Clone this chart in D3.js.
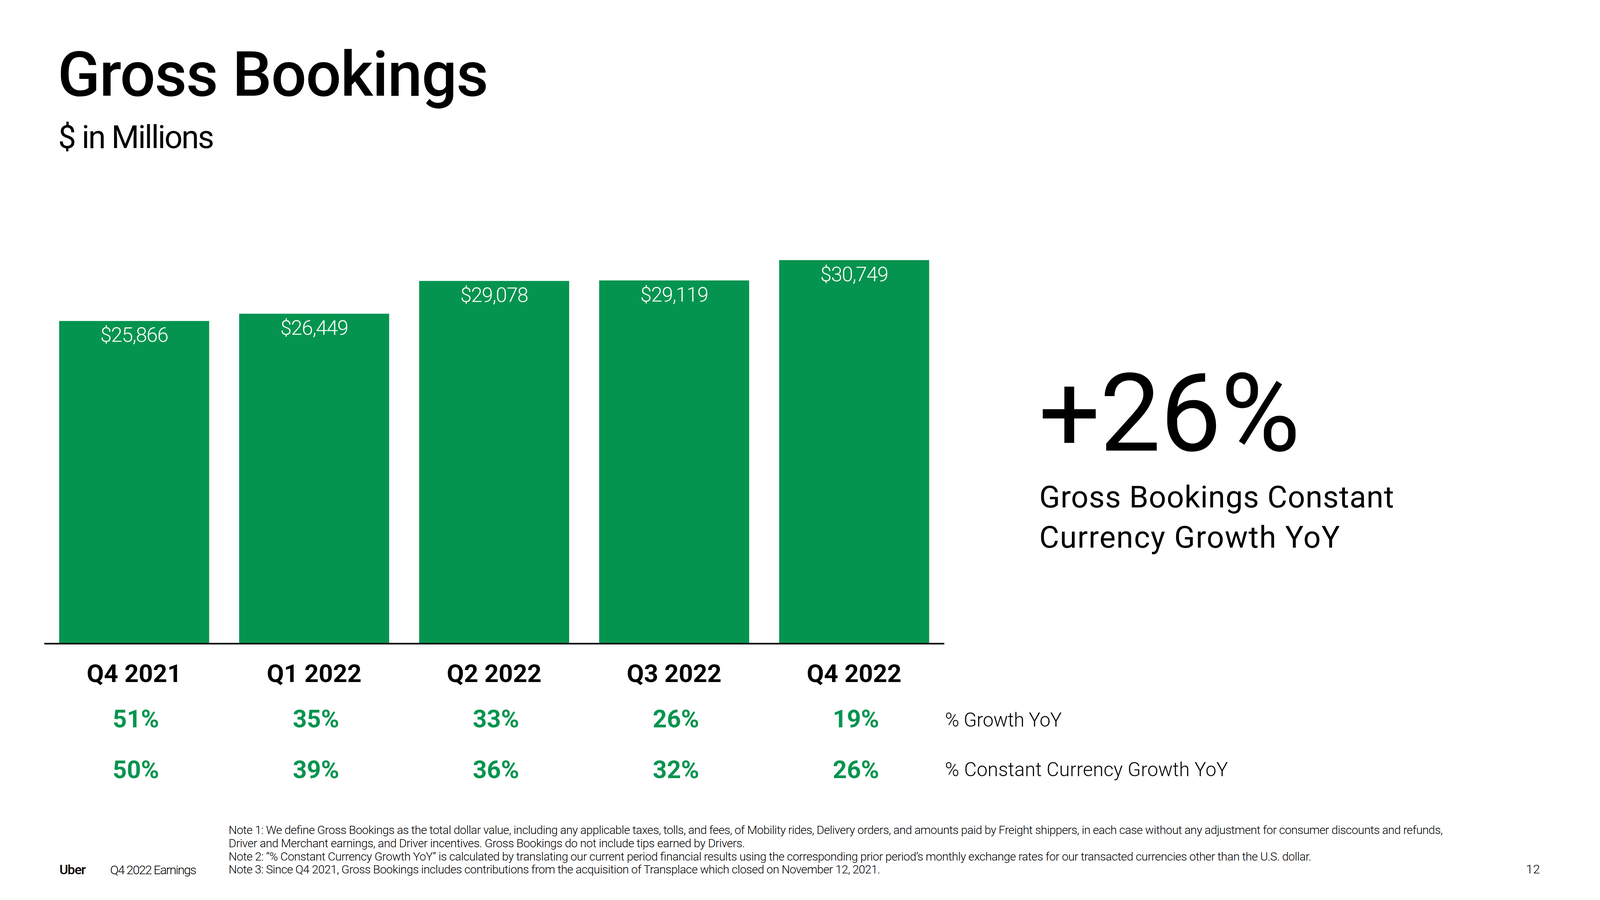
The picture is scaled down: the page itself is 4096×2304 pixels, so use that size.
<!DOCTYPE html>
<html>
<head>
<meta charset="utf-8">
<script src="https://cdn.jsdelivr.net/npm/d3@7"></script>
<style>
  html, body { margin: 0; padding: 0; background: #fff; }
  svg { display: block; }
  text { font-family: Roboto, "Noto Sans", sans-serif; }
</style>
</head>
<body>
<svg id="chart"></svg>
<script>
// ---------- data ----------
const categories = ["Q4 2021", "Q1 2022", "Q2 2022", "Q3 2022", "Q4 2022"];
const bookings = [25866, 26449, 29078, 29119, 30749];
const growthYoY = ["51%", "35%", "33%", "26%", "19%"];
const ccGrowthYoY = ["50%", "39%", "36%", "32%", "26%"];
const rowLabels = ["% Growth YoY", "% Constant Currency Growth YoY"];
const headline = "+26%";
const headlineCaption = ["Gross Bookings Constant", "Currency Growth YoY"];
const notes = [
  "Note 1: We define Gross Bookings as the total dollar value, including any applicable taxes, tolls, and fees, of Mobility rides, Delivery orders, and amounts paid by Freight shippers, in each case without any adjustment for consumer discounts and refunds,",
  "Driver and Merchant earnings, and Driver incentives. Gross Bookings do not include tips earned by Drivers.",
  "Note 2: \u201C% Constant Currency Growth YoY\u201D is calculated by translating our current period financial results using the corresponding prior period\u2019s monthly exchange rates for our transacted currencies other than the U.S. dollar.",
  "Note 3: Since Q4 2021, Gross Bookings includes contributions from the acquisition of Transplace which closed on November 12, 2021."
];
const noteWidths = [4047, 1721, 3609, 2172];

// ---------- layout (reference units 5333 x 3000, scaled by viewBox) ----------
const W = 5333, H = 3000;
const GREEN = "#05944F";
const svg = d3.select("#chart")
  .attr("width", 4096).attr("height", 2304)
  .attr("viewBox", `0 0 ${W} ${H}`);

function fit(sel, w) {
  sel.attr("textLength", w).attr("lengthAdjust", "spacing");
  return sel;
}

// Title
fit(svg.append("text").attr("x", 192).attr("y", 319)
  .attr("font-size", 208).attr("font-weight", 500).attr("fill", "#000")
  .attr("letter-spacing", -4)
  .text("Gross Bookings"), 1432);
fit(svg.append("text").attr("x", 194).attr("y", 493)
  .attr("font-size", 106).attr("font-weight", 400).attr("fill", "#000")
  .text("$ in Millions"), 520);

// Scales
const x = d3.scaleBand().domain(categories).range([147, 3147])
  .paddingInner(1 / 6).paddingOuter(1 / 12);
const y = d3.scaleLinear().domain([0, d3.max(bookings)]).range([2145, 867]);

// Bars
svg.append("g").selectAll("rect").data(bookings).join("rect")
  .attr("x", (d, i) => x(categories[i]))
  .attr("width", x.bandwidth())
  .attr("y", d => y(d))
  .attr("height", d => y(0) - y(d))
  .attr("fill", GREEN);

// Value labels
svg.append("g").selectAll("text").data(bookings).join("text")
  .attr("x", (d, i) => x(categories[i]) + x.bandwidth() / 2)
  .attr("y", d => y(d) + 70)
  .attr("text-anchor", "middle")
  .attr("font-size", 68).attr("font-weight", 300).attr("fill", "#fff")
  .attr("letter-spacing", -2)
  .text(d => "$" + d3.format(",")(d));

// Axis baseline
const axis = d3.axisBottom(x).tickSize(0).tickFormat("");
const ag = svg.append("g").attr("transform", `translate(0,${y(0)})`).call(axis);
ag.select(".domain").attr("stroke", "#000").attr("stroke-width", 5);

// Category labels
svg.append("g").selectAll("text").data(categories).join("text")
  .attr("x", d => x(d) + x.bandwidth() / 2)
  .attr("y", 2274)
  .attr("text-anchor", "middle")
  .attr("font-size", 83).attr("font-weight", 700).attr("fill", "#000")
  .text(d => d);

// Growth rows
[[growthYoY, 2424], [ccGrowthYoY, 2594]].forEach(([arr, yy]) => {
  svg.append("g").selectAll("text").data(arr).join("text")
    .attr("x", (d, i) => x(categories[i]) + x.bandwidth() / 2 + 6)
    .attr("y", yy)
    .attr("text-anchor", "middle")
    .attr("font-size", 82).attr("font-weight", 700).attr("fill", GREEN)
    .text(d => d);
});

// Row labels
const rowW = [389, 943];
rowLabels.forEach((t, i) => {
  fit(svg.append("text").attr("x", 3150).attr("y", [2422, 2587][i])
    .attr("font-size", 64).attr("font-weight", 300).attr("fill", "#000")
    .text(t), rowW[i]);
});

// Headline
fit(svg.append("text").attr("x", 3462).attr("y", 1502)
  .attr("font-size", 362).attr("font-weight", 400).attr("fill", "#000")
  .text(headline), 872);
const capW = [1182, 1002];
headlineCaption.forEach((t, i) => {
  fit(svg.append("text").attr("x", 3464).attr("y", 1692 + i * 133)
    .attr("font-size", 102).attr("font-weight", 400).attr("fill", "#000")
    .text(t), capW[i]);
});

// Notes
notes.forEach((t, i) => {
  fit(svg.append("text").attr("x", 762).attr("y", 2780 + i * 44)
    .attr("font-size", 39).attr("font-weight", 300).attr("fill", "#000")
    .text(t), noteWidths[i]);
});

// Footer
fit(svg.append("text").attr("x", 198).attr("y", 2914)
  .attr("font-size", 44).attr("font-weight", 500).attr("fill", "#000")
  .text("Uber"), 88);
fit(svg.append("text").attr("x", 367).attr("y", 2914)
  .attr("font-size", 42).attr("font-weight", 300).attr("fill", "#000")
  .text("Q4 2022 Earnings"), 288);
svg.append("text").attr("x", 5133).attr("y", 2911)
  .attr("text-anchor", "end")
  .attr("font-size", 42).attr("font-weight", 300).attr("fill", "#000")
  .text("12");
</script>
</body>
</html>
